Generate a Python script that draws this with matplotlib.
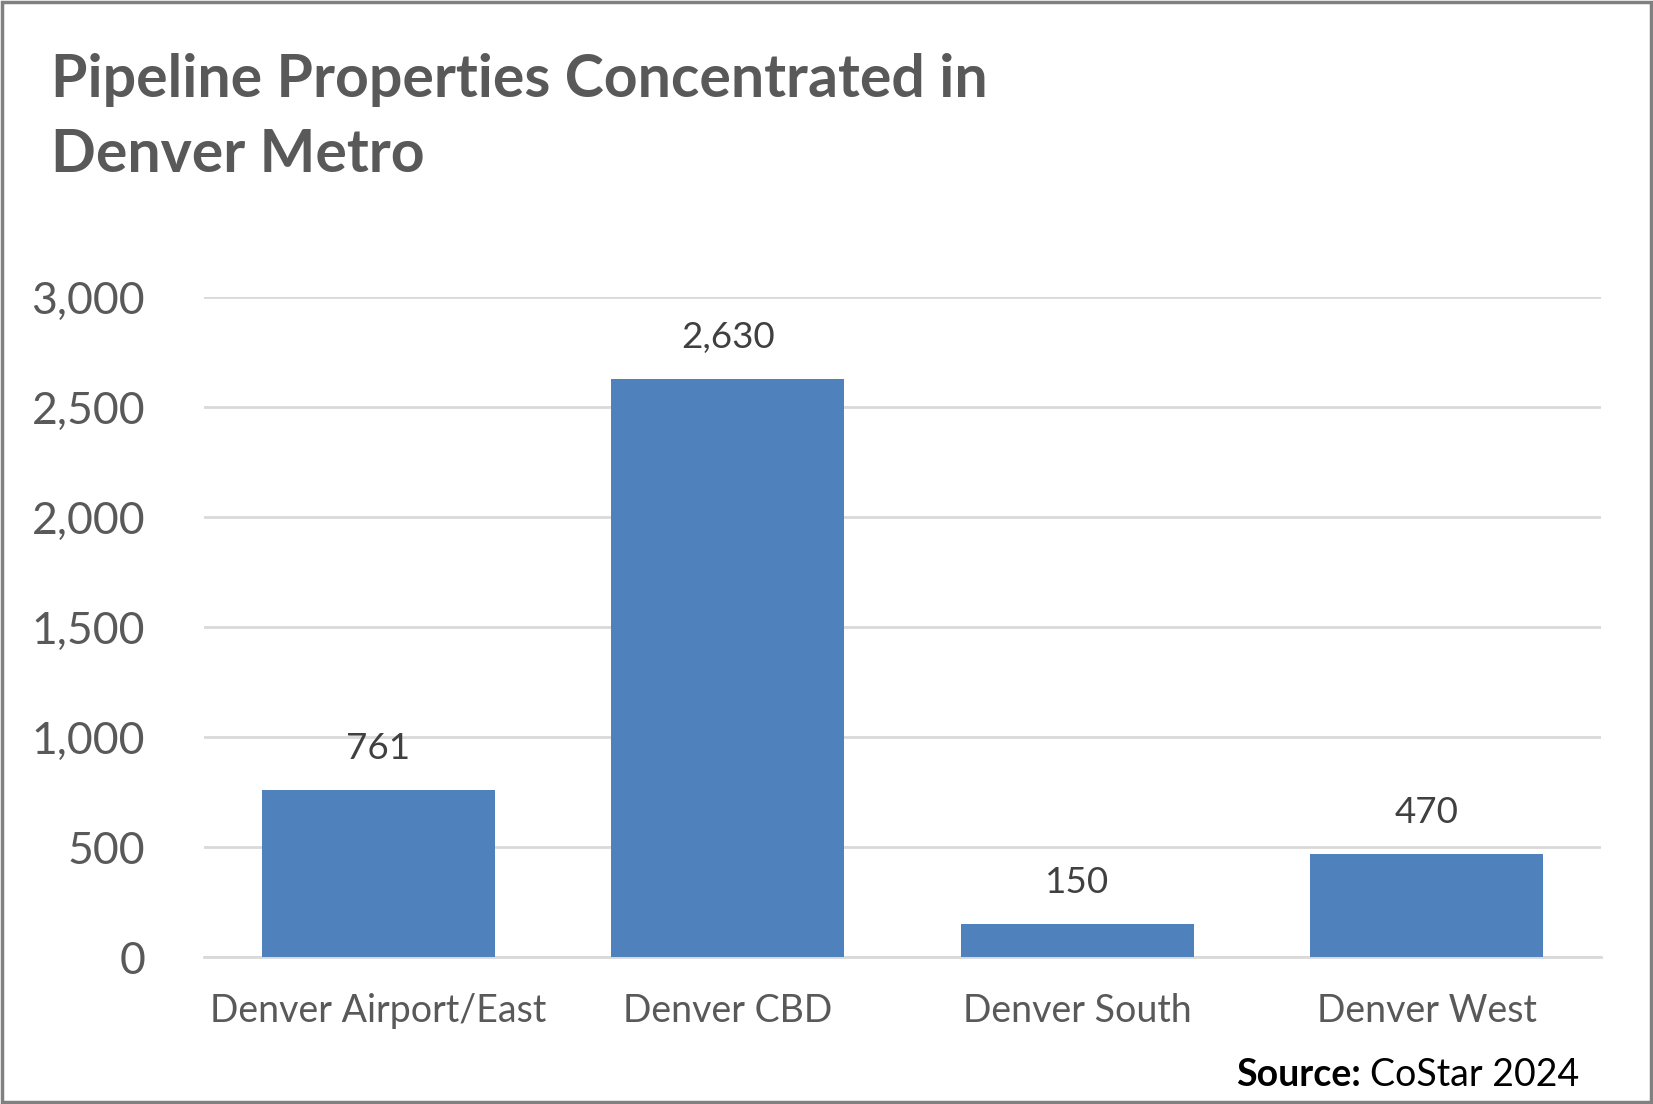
import matplotlib
matplotlib.use("Agg")
import matplotlib.pyplot as plt
from matplotlib.patches import Rectangle

categories = ["Denver Airport/East", "Denver CBD", "Denver South", "Denver West"]
values = [761, 2630, 150, 470]
yticks = [0, 500, 1000, 1500, 2000, 2500, 3000]
title_lines = ["Pipeline Properties Concentrated in", "Denver Metro"]

plt.rcParams['font.family'] = ['Lato', 'DejaVu Sans']
W, H = 1653, 1104
fig = plt.figure(figsize=(W/100, H/100), dpi=100)
fig.patch.set_facecolor('white')

ax = fig.add_axes([203.5/W, 1-957.2/H, (1601.3-203.5)/W, (957.2-297.3)/H])
x = list(range(len(categories)))
bars = ax.bar(x, values, width=0.667, color='#4f81bd', zorder=3)
ax.set_xlim(-0.5, len(categories)-0.5)
ax.set_ylim(0, 3000)
ax.set_yticks(yticks)
ax.set_yticklabels([f"{v:,}" for v in yticks])
ax.set_xticks(x)
ax.set_xticklabels(categories)
ax.grid(axis='y', color='#d9d9d9', linewidth=2, zorder=0)
for s in ['top', 'right', 'left']:
    ax.spines[s].set_visible(False)
ax.spines['bottom'].set_color('#d9d9d9')
ax.spines['bottom'].set_linewidth(2)
ax.tick_params(axis='both', length=0, colors='#595959')
ax.tick_params(axis='y', labelsize=32, pad=42)
ax.tick_params(axis='x', labelsize=27, pad=26)

for xi, v in zip(x, values):
    ax.annotate(f"{v:,}", (xi, v), xytext=(0, 18), textcoords='offset points',
                ha='center', va='bottom', fontsize=26.5, color='#404040')

fig.text(50.6/W, 1-97/H, title_lines[0], fontsize=42.5, fontweight='bold', color='#595959', va='baseline', ha='left')
fig.text(50.6/W, 1-172/H, title_lines[1], fontsize=42.5, fontweight='bold', color='#595959', va='baseline', ha='left')

# source
t1 = fig.text(1236/W, 1-1086/H, "Source:", fontsize=27, fontweight='bold', color='black', va='baseline', ha='left')
fig.canvas.draw()
bb = t1.get_window_extent()
fig.text((bb.x1 + 9)/W, 1-1086/H, "CoStar 2024", fontsize=27, color='black', va='baseline', ha='left')

fig.patches.append(Rectangle((0.0015, 0.002), 0.997, 0.996, transform=fig.transFigure,
                             fill=False, edgecolor='#808080', linewidth=2.5))

fig.savefig("out.png", dpi=100, facecolor='white')
